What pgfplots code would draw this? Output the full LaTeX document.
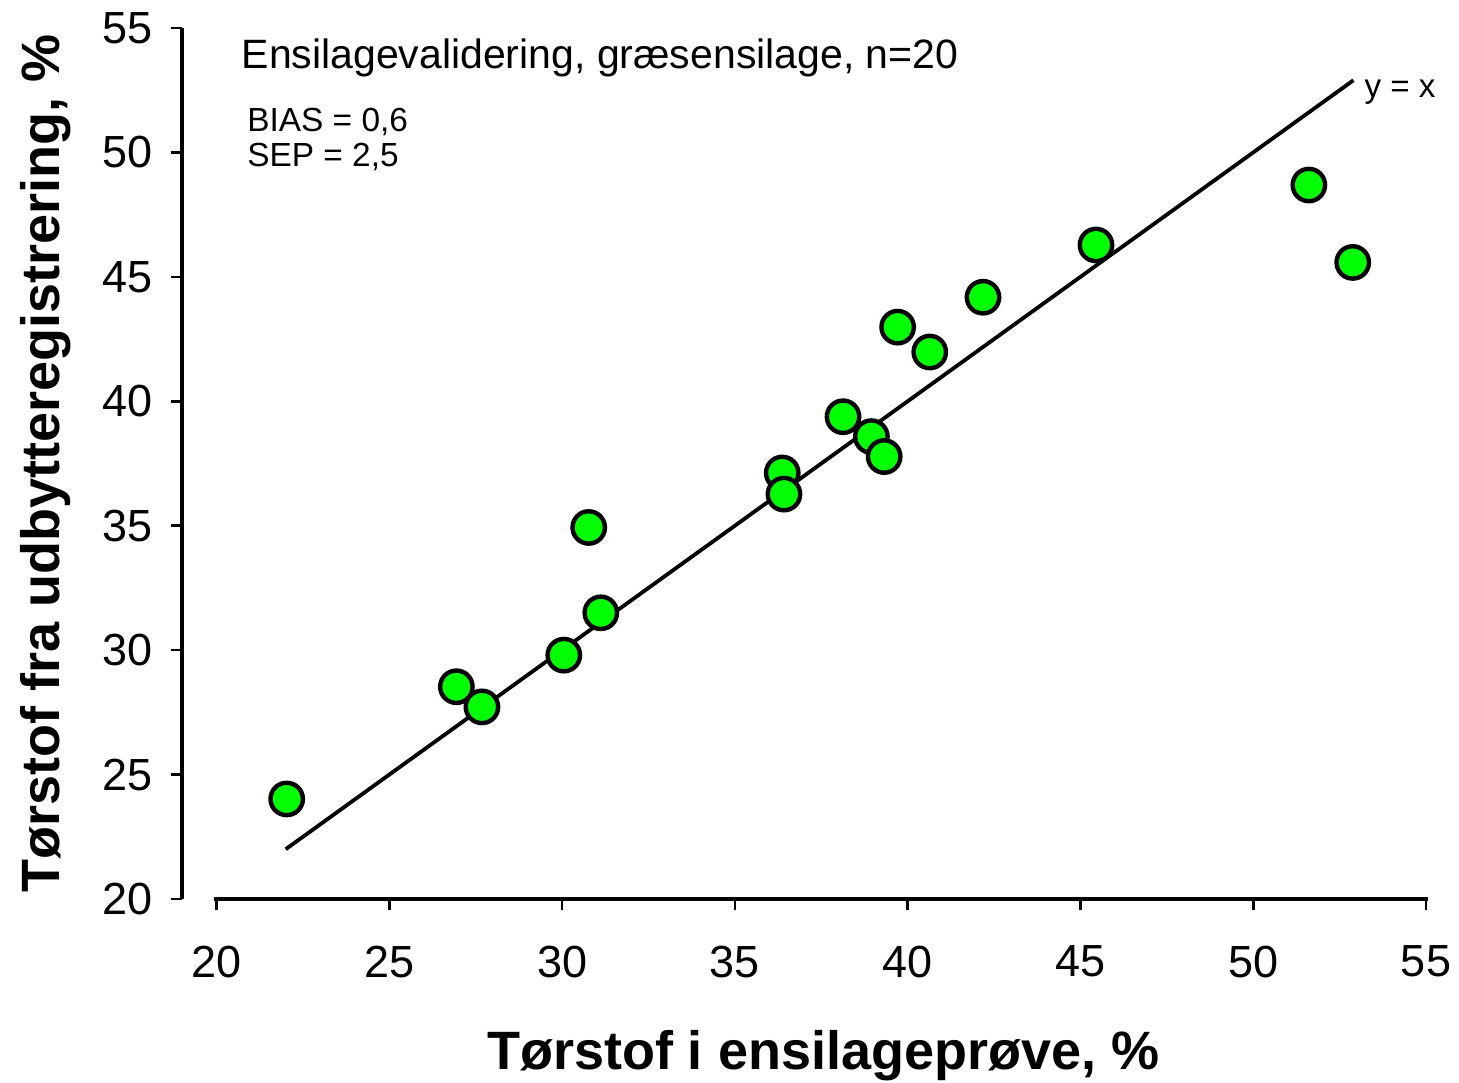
\documentclass[border=0pt]{standalone}
\usepackage{pgfplots}
\pgfplotsset{compat=1.18}
\usepackage{fontspec}
\setmainfont{Liberation Sans}
\definecolor{ptgreen}{RGB}{0,255,0}
\begin{document}
\begin{tikzpicture}
\useasboundingbox (-91pt,-91.5pt) rectangle (638.5pt,449.5pt);
\begin{axis}[
  at={(0,0)}, anchor=south west,
  scale only axis, width=622pt, height=435.5pt,
  xmin=19, xmax=55, ymin=20, ymax=55,
  axis x line*=bottom, axis y line*=left,
  axis line style={draw=none},
  xtick={20,25,...,55}, ytick={20,25,...,55},
  tick align=outside,
  major tick length=5.7pt,
  every tick/.style={black, line width=1.3pt},
  /pgf/number format/assume math mode=true,
  tick label style={font=\fontsize{22.5}{22.5}\selectfont, inner sep=0pt},
  xticklabel style={anchor=center, yshift=-25.6pt},
  yticklabel style={anchor=east, xshift=-8.65pt},
  xlabel={Tørstof i ensilageprøve, \%},
  ylabel={Tørstof fra udbytteregistrering, \%},
  label style={font=\fontsize{27}{27}\selectfont\bfseries, inner sep=0pt},
  xlabel style={at={(axis description cs:0.2449,-0.1956)}, anchor=base west},
  ylabel style={at={(axis description cs:-0.0981,0.007)}, anchor=base west, rotate=0},
  clip=false,
]
\draw[line width=2.2pt, line cap=rect] (axis cs:20,20) -- (axis cs:55,20);
\draw[line width=2.2pt] (axis cs:19,20) -- (axis cs:19,55);
\addplot[only marks, mark=*, mark size=8.1pt,
  mark options={fill=ptgreen, draw=black, line width=2.2pt}]
  coordinates {
  (22.03,24.02) (26.94,28.53) (27.68,27.72) (30.05,29.80) (30.77,34.93)
  (31.12,31.50) (36.37,37.12) (36.42,36.27) (38.13,39.38) (38.95,38.58)
  (39.32,37.78) (39.71,42.98) (40.64,41.98) (42.18,44.18) (45.45,46.28)
  (51.61,48.69) (52.88,45.58)
  };
\addplot[black, line width=1.9pt, no marks] coordinates {(22,22) (52.9,52.9)};
\node[anchor=base west, inner sep=0pt, font=\fontsize{20.5}{20.5}\selectfont]
  at (axis cs:20.715,53.38) {Ensilagevalidering, græsensilage, n=20};
\node[anchor=base west, inner sep=0pt, font=\fontsize{16.7}{16.7}\selectfont]
  at (axis cs:20.88,50.83) {BIAS = 0,6};
\node[anchor=base west, inner sep=0pt, font=\fontsize{16.7}{16.7}\selectfont]
  at (axis cs:20.88,49.42) {SEP = 2,5};
\node[anchor=base west, inner sep=0pt, font=\fontsize{16.6}{16.6}\selectfont]
  at (axis cs:53.21,52.22) {y = x};
\end{axis}
\end{tikzpicture}
\end{document}
